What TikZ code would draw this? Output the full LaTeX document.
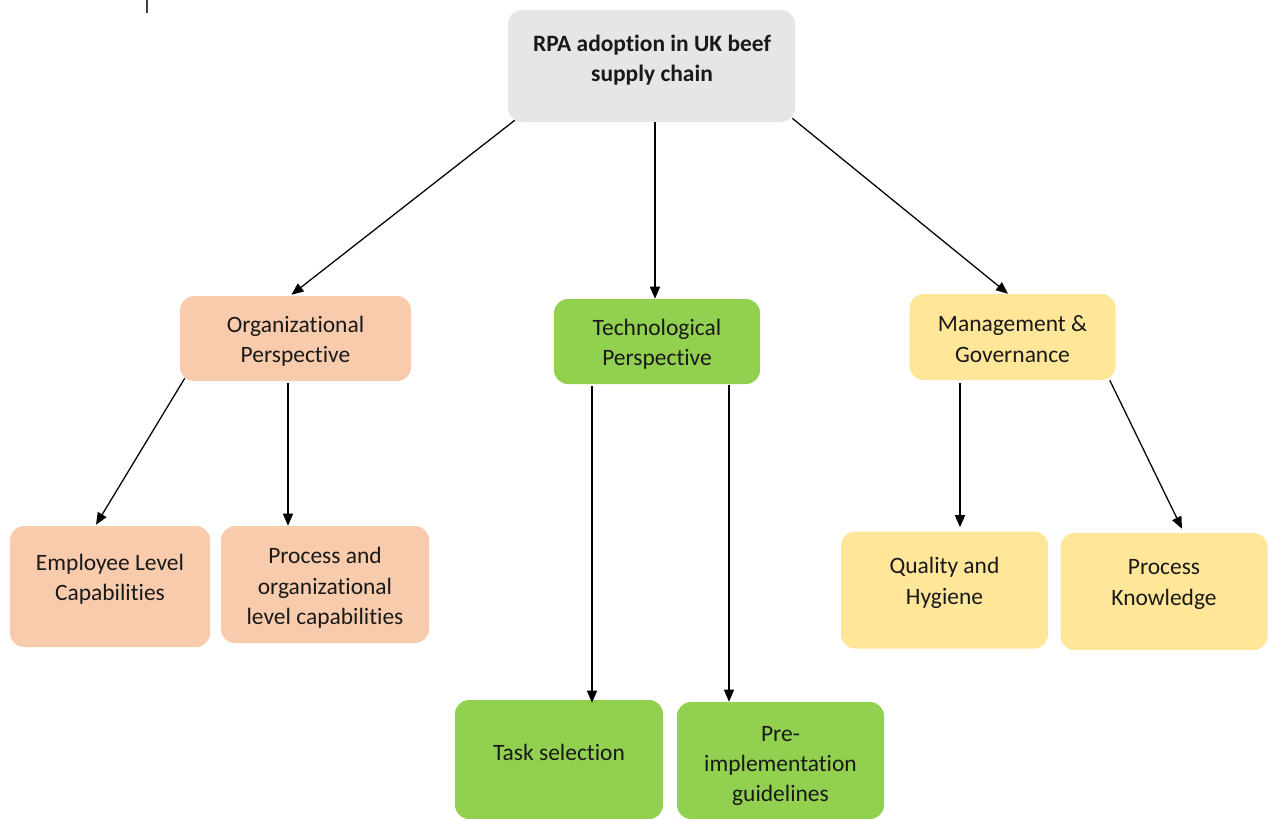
\documentclass[tikz,border=0pt]{standalone}
\usepackage{fontspec}
\setmainfont{Carlito}[Ligatures={NoCommon}]
\usetikzlibrary{arrows.meta,calc}

\definecolor{rootfill}{HTML}{E7E6E6}
\definecolor{orgfill}{HTML}{F8CBAD}
\definecolor{techfill}{HTML}{92D050}
\definecolor{mgmtfill}{HTML}{FFE699}

\tikzset{
  box/.style={draw=none, fill=#1, rounded corners=10.5pt, inner sep=0pt},
  label text/.style={align=center, inner sep=0pt, text=black!90,
    font=\fontsize{17.6}{22.8}\selectfont},
  arr/.style={line width=0.95pt, -{Triangle[length=9pt,width=7.5pt]}}
}

\begin{document}
\begin{tikzpicture}[x=0.75pt, y=-0.75pt]
\useasboundingbox (0,0) rectangle (1268,818);
\clip (0,0) rectangle (1268,818);
\fill[white] (0,0) rectangle (1268,818);

% small cursor mark at the top edge
\draw[line width=1.4pt, black!75] (147,0) -- (147,13);

% boxes
\node[box=rootfill, minimum width=215.25pt, minimum height=84pt] (root) at (651.5,66) {};
\node[box=orgfill,  minimum width=173.25pt, minimum height=63.75pt] (org) at (295.5,338.5) {};
\node[box=techfill, minimum width=154.5pt,  minimum height=63.75pt] (tech) at (657,341.5) {};
\node[box=mgmtfill, minimum width=154.5pt,  minimum height=64.5pt] (mgmt) at (1012.5,337) {};
\node[box=orgfill,  minimum width=150pt,    minimum height=90.75pt] (emp) at (110,586.5) {};
\node[box=orgfill,  minimum width=156pt,    minimum height=87.75pt] (proc) at (325,584.5) {};
\node[box=techfill, minimum width=156pt,    minimum height=89.25pt] (task) at (559,759.5) {};
\node[box=techfill, minimum width=155.25pt, minimum height=87.75pt] (pre) at (780.5,760.5) {};
\node[box=mgmtfill, minimum width=155.25pt, minimum height=87.75pt] (qual) at (944.5,590) {};
\node[box=mgmtfill, minimum width=155.25pt, minimum height=87.75pt] (know) at (1164,591.5) {};

% texts
\node[label text, font=\fontsize{17.6}{22.8}\selectfont\bfseries] (rootT) at (652,60) {RPA adoption in UK beef\\supply chain};
\node[label text] (orgT)  at (295.5,341) {Organizational\\Perspective};
\node[label text] (techT) at (657,344) {Technological\\Perspective};
\node[label text] (mgmtT) at (1012.5,339) {Management \&\\Governance};
\node[label text] (empT)  at (110,579) {Employee Level\\Capabilities};
\node[label text] (procT) at (325,588) {Process and\\organizational\\level capabilities};
\node[label text] (taskT) at (559,752) {Task selection};
\node[label text] (preT)  at (780.5,766) {Pre-\\implementation\\guidelines};
\node[label text] (qualT) at (944.5,583) {Quality and\\Hygiene};
\node[label text] (knowT) at (1164,584.5) {Process\\Knowledge};

% connectors
\draw[arr] ($(root.south west)+(7,-2)$) -- ($(org.north)+(-4,-1)$);
\draw[arr] ($(root.south)+(3.5,0)$) -- ($(tech.north)+(-2,0)$);
\draw[arr] ($(root.south east)+(-3,-4)$) -- ($(mgmt.north)+(-4.5,0)$);
\draw[arr] ($(org.south west)+(5,-3)$) -- ($(emp.north)+(-14,-1)$);
\draw[arr] ($(org.south)+(-7.5,2)$) -- ($(proc.north)+(-37,0)$);
\draw[arr] ($(tech.south)+(-65,2)$) -- ($(task.north)+(33,3)$);
\draw[arr] ($(tech.south)+(72,1)$) -- ($(pre.north)+(-51.5,0)$);
\draw[arr] ($(mgmt.south)+(-52.5,3)$) -- ($(qual.north)+(15.5,-4)$);
\draw[arr] ($(mgmt.south east)+(-6,0)$) -- ($(know.north)+(18,-4)$);
\end{tikzpicture}
\end{document}
